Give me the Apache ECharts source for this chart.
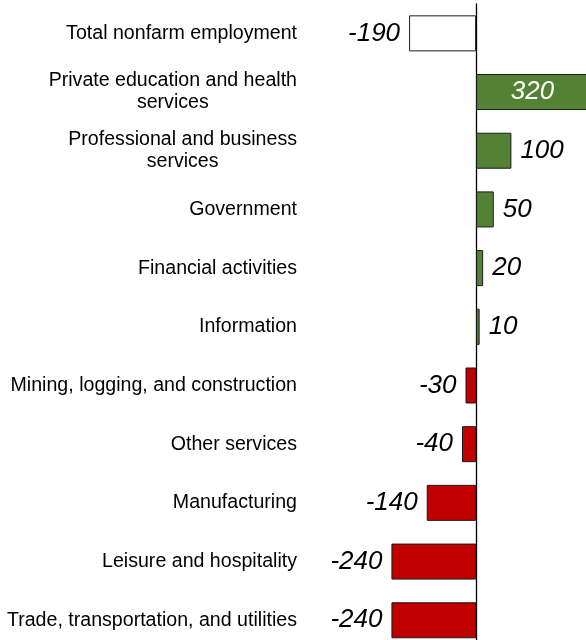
<!DOCTYPE html>
<html>
<head>
<meta charset="utf-8">
<script src="https://cdn.jsdelivr.net/npm/echarts@6/dist/echarts.min.js"></script>
<style>
html,body{margin:0;padding:0;background:#fff;}
#chart{width:586px;height:640px;}
</style>
</head>
<body>
<div id="chart"></div>
<script>
const categories = [
  "Total nonfarm employment",
  "Private education and health\nservices",
  "Professional and business\nservices",
  "Government",
  "Financial activities",
  "Information",
  "Mining, logging, and construction",
  "Other services",
  "Manufacturing",
  "Leisure and hospitality",
  "Trade, transportation, and utilities"
];
const values = [-190, 320, 100, 50, 20, 10, -30, -40, -140, -240, -240];

const FONT = "'Liberation Sans', Arial, sans-serif";
const chart = echarts.init(document.getElementById('chart'));

const data = values.map((v, i) => {
  let fill = v >= 0 ? '#548235' : '#c00000';
  if (i === 0) fill = '#ffffff';
  let label;
  if (v >= 300) {
    label = { position: 'inside', color: '#ffffff' };
  } else if (v >= 0) {
    label = { position: 'right', distance: 9 };
  } else {
    label = { position: 'left', distance: 9 };
  }
  return { value: v, itemStyle: { color: fill }, label: label };
});

chart.setOption({
  animation: false,
  backgroundColor: '#ffffff',
  grid: { left: 335, top: 4, width: 254, height: 645.6, containLabel: false, outerBoundsMode: 'none' },
  xAxis: {
    type: 'value', min: -400, max: 320, show: false,
    splitLine: { show: false }
  },
  yAxis: {
    type: 'category',
    inverse: true,
    data: categories,
    axisLine: { show: true, onZero: true, lineStyle: { color: '#000', width: 1.3 } },
    axisTick: { show: false },
    axisLabel: {
      margin: 38,
      color: '#000',
      fontSize: 19.6,
      fontFamily: FONT,
      lineHeight: 22,
      formatter: function (s) {
        return s.split('\n').map(l => '{c|' + l + '}').join('\n');
      },
      rich: {
        c: { align: 'center', fontSize: 19.6, fontFamily: FONT, color: '#000', lineHeight: 22 }
      }
    },
    splitLine: { show: false }
  },
  series: [{
    type: 'bar',
    data: data,
    barWidth: 36,
    itemStyle: { borderColor: '#1a1a1a', borderWidth: 1 },
    label: {
      show: true,
      fontSize: 26,
      fontStyle: 'italic',
      fontFamily: FONT,
      color: '#000'
    }
  }]
});
</script>
</body>
</html>
